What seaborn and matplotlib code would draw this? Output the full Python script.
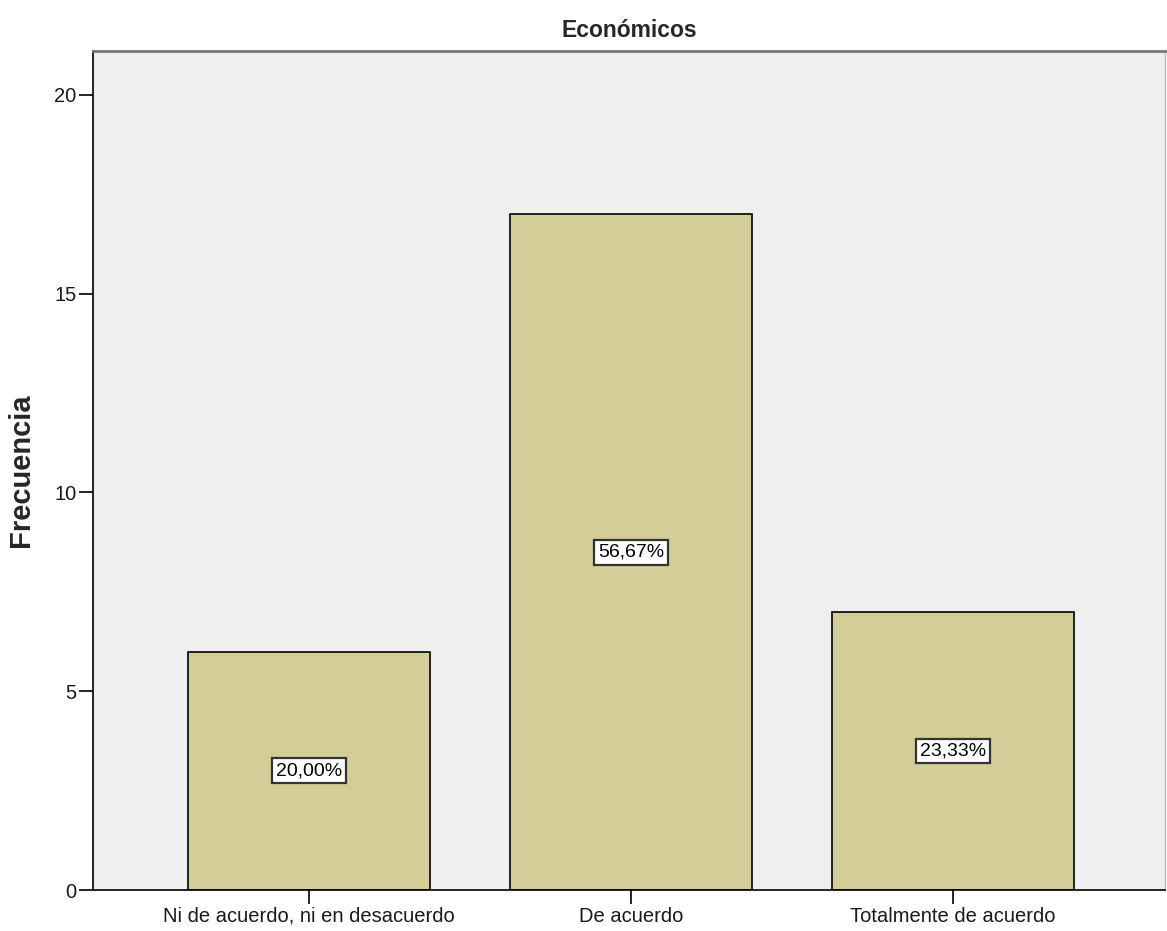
import matplotlib
matplotlib.use("Agg")
import matplotlib.pyplot as plt
import seaborn as sns
import pandas as pd

categorias = ["Ni de acuerdo, ni en desacuerdo", "De acuerdo", "Totalmente de acuerdo"]
frecuencias = [6, 17, 7]
porcentajes = ["20,00%", "56,67%", "23,33%"]

sns.set_style("white")
plt.rcParams["font.family"] = ["Liberation Sans", "DejaVu Sans"]

df = pd.DataFrame({"categoria": categorias, "frecuencia": frecuencias})

fig = plt.figure(figsize=(11.67, 9.31), dpi=100)
ax = fig.add_axes([0.0797, 0.044, 0.919, 0.901])
ax.set_facecolor("#EFEFEF")

sns.barplot(data=df, x="categoria", y="frecuencia", color="#D3CE97",
            saturation=1, width=0.75, edgecolor="black", linewidth=1.2, ax=ax)

for i, (f, p) in enumerate(zip(frecuencias, porcentajes)):
    ax.text(i, f / 2, p, ha="center", va="center", fontsize=14, color="black",
            bbox=dict(boxstyle="square,pad=0.2", facecolor="white",
                      edgecolor="#333333", linewidth=1.6))

ax.set_ylim(0, 21.1)
ax.set_xlim(-0.67, 2.66)
ax.set_yticks([0, 5, 10, 15, 20])
ax.tick_params(axis="both", direction="out", length=10, width=1.2,
               labelsize=14.5, colors="black", labelcolor="#1a1a1a", pad=2,
               left=True, bottom=True)

for side in ["left", "bottom"]:
    ax.spines[side].set_color("black")
    ax.spines[side].set_linewidth(1.2)
ax.spines["top"].set_color("#777777")
ax.spines["top"].set_linewidth(2)
ax.spines["right"].set_color("#BBBBBB")
ax.spines["right"].set_linewidth(1)

ax.set_xlabel("")
ax.set_ylabel("Frecuencia", fontsize=21, fontweight="bold", labelpad=14)
ax.set_title("Económicos", fontsize=16.5, fontweight="bold", pad=10)

fig.savefig("out.png", dpi=100)
